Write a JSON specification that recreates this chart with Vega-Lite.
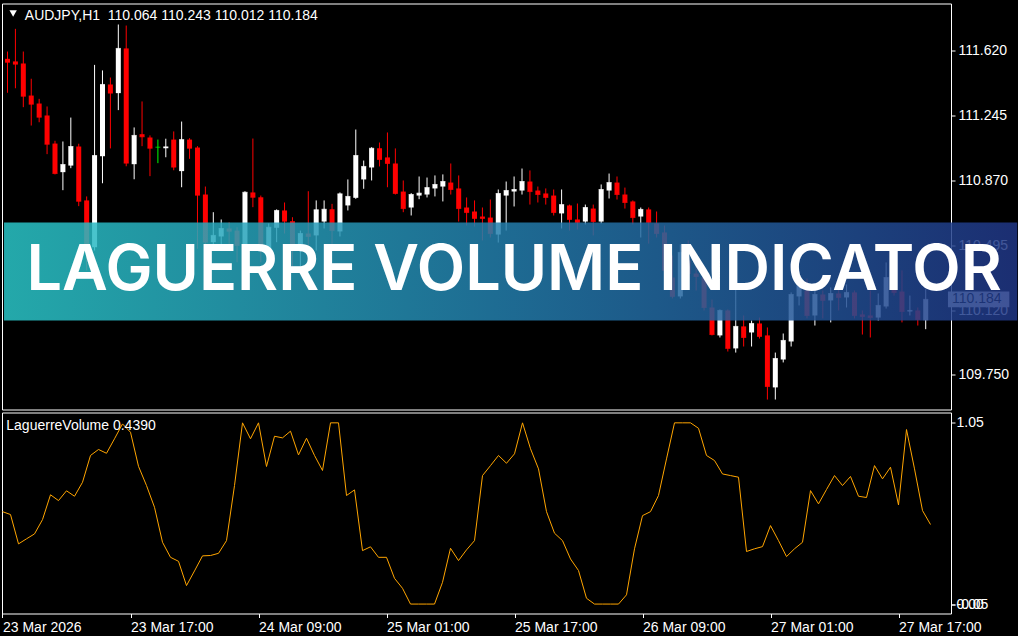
{
"$schema": "https://vega.github.io/schema/vega-lite/v6.json",
"background": "#000000",
"padding": {"left": 0, "top": 2.5, "right": 0, "bottom": 0},
"bounds": "flush",
"spacing": 3,
"config": {
  "view": {"stroke": "#ffffff", "strokeWidth": 1},
  "axis": {"grid": false, "domain": false, "title": null, "labelColor": "#ffffff", "tickColor": "#ffffff", "labelFont": "Liberation Sans", "labelFontSize": 14, "labelFontWeight": "normal", "tickSize": 4},
  "text": {"font": "Liberation Sans"}
},
"datasets": {"bars": [
{"t":"2026-03-23T01:00Z","o":111.572,"h":111.614,"l":111.376,"c":111.552,"lv":0.51},
{"t":"2026-03-23T02:00Z","o":111.557,"h":111.745,"l":111.402,"c":111.541,"lv":0.494},
{"t":"2026-03-23T03:00Z","o":111.545,"h":111.614,"l":111.293,"c":111.356,"lv":0.332},
{"t":"2026-03-23T04:00Z","o":111.360,"h":111.457,"l":111.187,"c":111.310,"lv":0.36},
{"t":"2026-03-23T05:00Z","o":111.314,"h":111.341,"l":111.206,"c":111.235,"lv":0.387},
{"t":"2026-03-23T06:00Z","o":111.245,"h":111.297,"l":111.022,"c":111.079,"lv":0.466},
{"t":"2026-03-23T07:00Z","o":111.083,"h":111.099,"l":110.905,"c":110.910,"lv":0.603},
{"t":"2026-03-23T08:00Z","o":110.918,"h":111.095,"l":110.814,"c":110.962,"lv":0.571},
{"t":"2026-03-23T09:00Z","o":110.956,"h":111.233,"l":110.941,"c":111.066,"lv":0.625},
{"t":"2026-03-23T10:00Z","o":111.066,"h":111.082,"l":110.722,"c":110.750,"lv":0.595},
{"t":"2026-03-23T11:00Z","o":110.755,"h":110.778,"l":110.351,"c":110.489,"lv":0.672},
{"t":"2026-03-23T12:00Z","o":110.485,"h":111.537,"l":110.466,"c":111.014,"lv":0.82},
{"t":"2026-03-23T13:00Z","o":111.010,"h":111.505,"l":110.854,"c":111.424,"lv":0.853},
{"t":"2026-03-23T14:00Z","o":111.424,"h":111.464,"l":111.055,"c":111.374,"lv":0.832},
{"t":"2026-03-23T15:00Z","o":111.374,"h":111.770,"l":111.276,"c":111.632,"lv":0.912},
{"t":"2026-03-23T16:00Z","o":111.632,"h":111.764,"l":110.952,"c":110.970,"lv":0.994},
{"t":"2026-03-23T17:00Z","o":110.964,"h":111.176,"l":110.877,"c":111.130,"lv":0.948},
{"t":"2026-03-23T18:00Z","o":111.137,"h":111.326,"l":111.068,"c":111.122,"lv":0.76},
{"t":"2026-03-23T19:00Z","o":111.118,"h":111.130,"l":110.895,"c":111.056,"lv":0.654},
{"t":"2026-03-23T20:00Z","o":111.062,"h":111.106,"l":110.970,"c":111.062,"lv":0.534},
{"t":"2026-03-23T21:00Z","o":111.056,"h":111.111,"l":111.004,"c":111.064,"lv":0.341},
{"t":"2026-03-23T22:00Z","o":111.106,"h":111.153,"l":110.929,"c":110.947,"lv":0.258},
{"t":"2026-03-23T23:00Z","o":110.924,"h":111.210,"l":110.831,"c":111.106,"lv":0.236},
{"t":"2026-03-24T00:00Z","o":111.106,"h":111.114,"l":110.995,"c":111.056,"lv":0.102},
{"t":"2026-03-24T01:00Z","o":111.060,"h":111.068,"l":110.476,"c":110.785,"lv":0.183},
{"t":"2026-03-24T02:00Z","o":110.789,"h":110.835,"l":110.466,"c":110.514,"lv":0.266},
{"t":"2026-03-24T03:00Z","o":110.514,"h":110.687,"l":110.489,"c":110.553,"lv":0.268},
{"t":"2026-03-24T04:00Z","o":110.547,"h":110.645,"l":110.485,"c":110.593,"lv":0.28},
{"t":"2026-03-24T05:00Z","o":110.593,"h":110.628,"l":110.495,"c":110.577,"lv":0.35},
{"t":"2026-03-24T06:00Z","o":110.581,"h":110.600,"l":110.398,"c":110.495,"lv":0.654},
{"t":"2026-03-24T07:00Z","o":110.487,"h":110.808,"l":110.483,"c":110.802,"lv":1.0},
{"t":"2026-03-24T08:00Z","o":110.801,"h":111.112,"l":110.716,"c":110.773,"lv":0.912},
{"t":"2026-03-24T09:00Z","o":110.773,"h":110.783,"l":110.398,"c":110.478,"lv":1.0},
{"t":"2026-03-24T10:00Z","o":110.472,"h":110.622,"l":110.362,"c":110.600,"lv":0.759},
{"t":"2026-03-24T11:00Z","o":110.597,"h":110.703,"l":110.514,"c":110.697,"lv":0.926},
{"t":"2026-03-24T12:00Z","o":110.697,"h":110.743,"l":110.564,"c":110.635,"lv":0.917},
{"t":"2026-03-24T13:00Z","o":110.635,"h":110.658,"l":110.362,"c":110.466,"lv":0.954},
{"t":"2026-03-24T14:00Z","o":110.466,"h":110.581,"l":110.370,"c":110.564,"lv":0.823},
{"t":"2026-03-24T15:00Z","o":110.564,"h":110.808,"l":110.373,"c":110.547,"lv":0.915},
{"t":"2026-03-24T16:00Z","o":110.553,"h":110.755,"l":110.466,"c":110.701,"lv":0.82},
{"t":"2026-03-24T17:00Z","o":110.633,"h":110.755,"l":110.593,"c":110.704,"lv":0.737},
{"t":"2026-03-24T18:00Z","o":110.704,"h":110.735,"l":110.485,"c":110.581,"lv":1.0},
{"t":"2026-03-24T19:00Z","o":110.576,"h":110.801,"l":110.547,"c":110.793,"lv":1.0},
{"t":"2026-03-24T20:00Z","o":110.726,"h":110.876,"l":110.697,"c":110.778,"lv":0.599},
{"t":"2026-03-24T21:00Z","o":110.770,"h":111.164,"l":110.764,"c":111.014,"lv":0.63},
{"t":"2026-03-24T22:00Z","o":110.876,"h":110.985,"l":110.822,"c":110.951,"lv":0.295},
{"t":"2026-03-24T23:00Z","o":110.945,"h":111.062,"l":110.870,"c":111.056,"lv":0.316},
{"t":"2026-03-25T00:00Z","o":111.056,"h":111.089,"l":110.951,"c":110.991,"lv":0.258},
{"t":"2026-03-25T01:00Z","o":111.003,"h":111.147,"l":110.831,"c":110.968,"lv":0.258},
{"t":"2026-03-25T02:00Z","o":110.968,"h":111.055,"l":110.789,"c":110.795,"lv":0.142},
{"t":"2026-03-25T03:00Z","o":110.806,"h":110.870,"l":110.687,"c":110.708,"lv":0.087},
{"t":"2026-03-25T04:00Z","o":110.714,"h":110.797,"l":110.668,"c":110.789,"lv":0.0},
{"t":"2026-03-25T05:00Z","o":110.783,"h":110.893,"l":110.762,"c":110.797,"lv":0.0},
{"t":"2026-03-25T06:00Z","o":110.789,"h":110.887,"l":110.772,"c":110.829,"lv":0.0},
{"t":"2026-03-25T07:00Z","o":110.824,"h":110.899,"l":110.778,"c":110.847,"lv":0.0},
{"t":"2026-03-25T08:00Z","o":110.835,"h":110.905,"l":110.749,"c":110.864,"lv":0.12},
{"t":"2026-03-25T09:00Z","o":110.858,"h":110.968,"l":110.789,"c":110.818,"lv":0.308},
{"t":"2026-03-25T10:00Z","o":110.824,"h":110.899,"l":110.633,"c":110.708,"lv":0.24},
{"t":"2026-03-25T11:00Z","o":110.714,"h":110.772,"l":110.610,"c":110.685,"lv":0.299},
{"t":"2026-03-25T12:00Z","o":110.691,"h":110.755,"l":110.604,"c":110.651,"lv":0.35},
{"t":"2026-03-25T13:00Z","o":110.662,"h":110.714,"l":110.524,"c":110.651,"lv":0.709},
{"t":"2026-03-25T14:00Z","o":110.656,"h":110.760,"l":110.541,"c":110.564,"lv":0.764},
{"t":"2026-03-25T15:00Z","o":110.558,"h":110.818,"l":110.512,"c":110.795,"lv":0.82},
{"t":"2026-03-25T16:00Z","o":110.783,"h":110.864,"l":110.581,"c":110.812,"lv":0.777},
{"t":"2026-03-25T17:00Z","o":110.806,"h":110.893,"l":110.720,"c":110.818,"lv":0.829},
{"t":"2026-03-25T18:00Z","o":110.812,"h":110.939,"l":110.789,"c":110.864,"lv":1.0},
{"t":"2026-03-25T19:00Z","o":110.864,"h":110.928,"l":110.731,"c":110.806,"lv":0.857},
{"t":"2026-03-25T20:00Z","o":110.812,"h":110.835,"l":110.743,"c":110.789,"lv":0.746},
{"t":"2026-03-25T21:00Z","o":110.795,"h":110.824,"l":110.731,"c":110.772,"lv":0.51},
{"t":"2026-03-25T22:00Z","o":110.783,"h":110.818,"l":110.668,"c":110.685,"lv":0.391},
{"t":"2026-03-25T23:00Z","o":110.680,"h":110.818,"l":110.593,"c":110.731,"lv":0.35},
{"t":"2026-03-26T00:00Z","o":110.726,"h":110.731,"l":110.581,"c":110.645,"lv":0.249},
{"t":"2026-03-26T01:00Z","o":110.645,"h":110.737,"l":110.587,"c":110.628,"lv":0.185},
{"t":"2026-03-26T02:00Z","o":110.633,"h":110.731,"l":110.616,"c":110.714,"lv":0.032},
{"t":"2026-03-26T03:00Z","o":110.708,"h":110.731,"l":110.553,"c":110.633,"lv":0.0},
{"t":"2026-03-26T04:00Z","o":110.633,"h":110.847,"l":110.622,"c":110.818,"lv":0.0},
{"t":"2026-03-26T05:00Z","o":110.812,"h":110.910,"l":110.766,"c":110.858,"lv":0.0},
{"t":"2026-03-26T06:00Z","o":110.858,"h":110.893,"l":110.760,"c":110.789,"lv":0.0},
{"t":"2026-03-26T07:00Z","o":110.789,"h":110.829,"l":110.708,"c":110.743,"lv":0.051},
{"t":"2026-03-26T08:00Z","o":110.749,"h":110.755,"l":110.616,"c":110.656,"lv":0.305},
{"t":"2026-03-26T09:00Z","o":110.662,"h":110.714,"l":110.541,"c":110.703,"lv":0.488},
{"t":"2026-03-26T10:00Z","o":110.703,"h":110.714,"l":110.506,"c":110.628,"lv":0.51},
{"t":"2026-03-26T11:00Z","o":110.622,"h":110.691,"l":110.541,"c":110.564,"lv":0.599},
{"t":"2026-03-26T12:00Z","o":110.570,"h":110.610,"l":110.339,"c":110.351,"lv":0.801},
{"t":"2026-03-26T13:00Z","o":110.310,"h":110.437,"l":110.189,"c":110.201,"lv":1.0},
{"t":"2026-03-26T14:00Z","o":110.201,"h":110.501,"l":110.189,"c":110.455,"lv":1.0},
{"t":"2026-03-26T15:00Z","o":110.408,"h":110.524,"l":110.293,"c":110.333,"lv":1.0},
{"t":"2026-03-26T16:00Z","o":110.333,"h":110.426,"l":110.235,"c":110.316,"lv":0.97},
{"t":"2026-03-26T17:00Z","o":110.310,"h":110.351,"l":110.120,"c":110.137,"lv":0.82},
{"t":"2026-03-26T18:00Z","o":110.137,"h":110.183,"l":109.976,"c":109.981,"lv":0.792},
{"t":"2026-03-26T19:00Z","o":109.976,"h":110.126,"l":109.964,"c":110.120,"lv":0.718},
{"t":"2026-03-26T20:00Z","o":110.120,"h":110.126,"l":109.883,"c":109.901,"lv":0.709},
{"t":"2026-03-26T21:00Z","o":109.901,"h":110.310,"l":109.877,"c":110.028,"lv":0.7},
{"t":"2026-03-26T22:00Z","o":110.028,"h":110.091,"l":109.912,"c":109.964,"lv":0.29},
{"t":"2026-03-26T23:00Z","o":109.993,"h":110.062,"l":109.912,"c":110.045,"lv":0.305},
{"t":"2026-03-27T00:00Z","o":110.045,"h":110.079,"l":109.958,"c":109.970,"lv":0.317},
{"t":"2026-03-27T01:00Z","o":109.976,"h":110.022,"l":109.606,"c":109.681,"lv":0.433},
{"t":"2026-03-27T02:00Z","o":109.676,"h":109.877,"l":109.606,"c":109.843,"lv":0.35},
{"t":"2026-03-27T03:00Z","o":109.837,"h":109.987,"l":109.820,"c":109.947,"lv":0.262},
{"t":"2026-03-27T04:00Z","o":109.941,"h":110.224,"l":109.912,"c":110.212,"lv":0.305},
{"t":"2026-03-27T05:00Z","o":110.201,"h":110.310,"l":110.149,"c":110.264,"lv":0.341},
{"t":"2026-03-27T06:00Z","o":110.235,"h":110.304,"l":110.074,"c":110.091,"lv":0.626},
{"t":"2026-03-27T07:00Z","o":110.091,"h":110.235,"l":110.033,"c":110.212,"lv":0.553},
{"t":"2026-03-27T08:00Z","o":110.212,"h":110.235,"l":110.074,"c":110.178,"lv":0.632},
{"t":"2026-03-27T09:00Z","o":110.178,"h":110.253,"l":110.051,"c":110.218,"lv":0.709},
{"t":"2026-03-27T10:00Z","o":110.218,"h":110.264,"l":110.120,"c":110.195,"lv":0.654},
{"t":"2026-03-27T11:00Z","o":110.195,"h":110.270,"l":110.137,"c":110.224,"lv":0.704},
{"t":"2026-03-27T12:00Z","o":110.224,"h":110.235,"l":110.074,"c":110.091,"lv":0.595},
{"t":"2026-03-27T13:00Z","o":110.097,"h":110.120,"l":109.981,"c":110.085,"lv":0.588},
{"t":"2026-03-27T14:00Z","o":110.091,"h":110.235,"l":109.964,"c":110.079,"lv":0.764},
{"t":"2026-03-27T15:00Z","o":110.079,"h":110.218,"l":110.062,"c":110.149,"lv":0.691},
{"t":"2026-03-27T16:00Z","o":110.143,"h":110.397,"l":110.131,"c":110.310,"lv":0.755},
{"t":"2026-03-27T17:00Z","o":110.316,"h":110.397,"l":110.206,"c":110.224,"lv":0.547},
{"t":"2026-03-27T18:00Z","o":110.229,"h":110.351,"l":110.051,"c":110.114,"lv":0.963},
{"t":"2026-03-27T19:00Z","o":110.114,"h":110.206,"l":110.091,"c":110.120,"lv":0.746},
{"t":"2026-03-27T20:00Z","o":110.120,"h":110.137,"l":110.033,"c":110.068,"lv":0.516},
{"t":"2026-03-27T21:00Z","o":110.064,"h":110.243,"l":110.012,"c":110.184,"lv":0.439}
]},
"vconcat": [
 {
  "width": 949, "height": 406,
  "layer": [
   {
    "data": {"name": "bars"},
    "mark": {"type": "rule", "strokeWidth": 1},
    "encoding": {
     "x": {"field": "t", "type": "temporal", "axis": null,
           "scale": {"type": "utc", "nice": false, "domain": [
             {"year": 2026, "month": 3, "date": 23, "hours": 0, "minutes": 56, "seconds": 15, "utc": true},
             {"year": 2026, "month": 3, "date": 27, "hours": 23, "minutes": 33, "seconds": 45, "utc": true}]}},
     "y": {"field": "l", "type": "quantitative",
           "scale": {"domain": [109.5485, 111.8912], "nice": false, "zero": false},
           "axis": {"orient": "right", "values": [111.62, 111.245, 110.87, 110.495, 110.12, 109.75], "format": ".3f", "labelPadding": 3, "tickSize": 4}},
     "y2": {"field": "h"},
     "color": {"condition": [{"test": "datum.c > datum.o", "value": "#ffffff"}, {"test": "datum.c < datum.o", "value": "#ff0000"}], "value": "#00ff00"}
    }
   },
   {
    "data": {"name": "bars"},
    "mark": {"type": "bar", "width": 5},
    "encoding": {
     "x": {"field": "t", "type": "temporal"},
     "y": {"field": "o", "type": "quantitative"},
     "y2": {"field": "c"},
     "color": {"condition": [{"test": "datum.c > datum.o", "value": "#ffffff"}, {"test": "datum.c < datum.o", "value": "#ff0000"}], "value": "#00ff00"}
    }
   },
   {
    "data": {"name": "bars"},
    "mark": {"type": "tick", "orient": "horizontal", "thickness": 1, "size": 5},
    "encoding": {
     "x": {"field": "t", "type": "temporal"},
     "y": {"field": "c", "type": "quantitative"},
     "color": {"condition": [{"test": "datum.c > datum.o", "value": "#ffffff"}, {"test": "datum.c < datum.o", "value": "#ff0000"}], "value": "#00ff00"}
    }
   },
   {
    "data": {"values": [{}]},
    "mark": {"type": "rect", "fill": "#f2f2f2", "clip": false},
    "encoding": {
     "x": {"datum": {"year": 2026, "month": 3, "date": 27, "hours": 23, "minutes": 48, "seconds": 45, "utc": true}, "type": "temporal"},
     "x2": {"datum": {"year": 2026, "month": 3, "date": 28, "hours": 7, "minutes": 33, "seconds": 45, "utc": true}},
     "y": {"datum": 110.230, "type": "quantitative"},
     "y2": {"datum": 110.138}
    }
   },
   {
    "data": {"values": [{}]},
    "mark": {"type": "text", "text": "110.184", "color": "#000000", "fontSize": 14, "align": "left", "baseline": "middle", "clip": false},
    "encoding": {
     "x": {"datum": {"year": 2026, "month": 3, "date": 28, "hours": 0, "minutes": 18, "seconds": 45, "utc": true}, "type": "temporal"},
     "y": {"datum": 110.184, "type": "quantitative"}
    }
   },
   {
    "data": {"values": [{}]},
    "mark": {"type": "rect", "clip": false, "opacity": 0.85,
             "fill": {"gradient": "linear", "x1": 0, "y1": 0, "x2": 1, "y2": 0,
                      "stops": [{"offset": 0, "color": "#2ac6c8"}, {"offset": 0.5, "color": "#237dac"}, {"offset": 1, "color": "#203686"}]}},
    "encoding": {
     "x": {"datum": {"year": 2026, "month": 3, "date": 23, "hours": 0, "minutes": 33, "seconds": 45, "utc": true}, "type": "temporal"},
     "x2": {"datum": {"year": 2026, "month": 3, "date": 28, "hours": 8, "minutes": 33, "seconds": 45, "utc": true}},
     "y": {"datum": 110.6275, "type": "quantitative"},
     "y2": {"datum": 110.062}
    }
   },
   {
    "data": {"values": [{}]},
    "mark": {"type": "text", "text": "LAGUERRE VOLUME INDICATOR", "font": "Inter", "fontWeight": 600, "fontSize": 63, "color": "#ffffff", "align": "center", "baseline": "alphabetic", "clip": false},
    "encoding": {
     "x": {"datum": {"year": 2026, "month": 3, "date": 25, "hours": 17, "minutes": 0, "seconds": 0, "utc": true}, "type": "temporal"},
     "y": {"datum": 110.238, "type": "quantitative"}
    }
   },
   {
    "data": {"values": [{}]},
    "mark": {"type": "point", "shape": "triangle-down", "filled": true, "size": 55, "color": "#ffffff", "opacity": 1},
    "encoding": {
     "x": {"datum": {"year": 2026, "month": 3, "date": 23, "hours": 1, "minutes": 42, "seconds": 45, "utc": true}, "type": "temporal"},
     "y": {"datum": 111.8335, "type": "quantitative"}
    }
   },
   {
    "data": {"values": [{}]},
    "mark": {"type": "text", "text": "AUDJPY,H1\u00a0 110.064 110.243 110.012 110.184", "color": "#ffffff", "fontSize": 14, "align": "left", "baseline": "alphabetic"},
    "encoding": {
     "x": {"datum": {"year": 2026, "month": 3, "date": 23, "hours": 3, "minutes": 11, "seconds": 15, "utc": true}, "type": "temporal"},
     "y": {"datum": 111.7972, "type": "quantitative"}
    }
   }
  ]
 },
 {
  "width": 949, "height": 201,
  "layer": [
   {
    "data": {"name": "bars"},
    "mark": {"type": "line", "color": "#ffa500", "strokeWidth": 1},
    "encoding": {
     "x": {"field": "t", "type": "temporal",
           "scale": {"type": "utc", "nice": false, "domain": [
             {"year": 2026, "month": 3, "date": 23, "hours": 0, "minutes": 56, "seconds": 15, "utc": true},
             {"year": 2026, "month": 3, "date": 27, "hours": 23, "minutes": 33, "seconds": 45, "utc": true}]},
           "axis": {"orient": "bottom", "labelAlign": "left", "labelFlush": false, "labelOverlap": false, "labelBaseline": "top", "tickSize": 4, "labelPadding": 3,
                    "values": [
                      {"year": 2026, "month": 3, "date": 23, "hours": 1, "utc": true},
                      {"year": 2026, "month": 3, "date": 23, "hours": 17, "utc": true},
                      {"year": 2026, "month": 3, "date": 24, "hours": 9, "utc": true},
                      {"year": 2026, "month": 3, "date": 25, "hours": 1, "utc": true},
                      {"year": 2026, "month": 3, "date": 25, "hours": 17, "utc": true},
                      {"year": 2026, "month": 3, "date": 26, "hours": 9, "utc": true},
                      {"year": 2026, "month": 3, "date": 27, "hours": 1, "utc": true},
                      {"year": 2026, "month": 3, "date": 27, "hours": 17, "utc": true}],
                    "labelExpr": "utcdate(datum.value) == 23 && utchours(datum.value) == 1 ? '23 Mar 2026' : utcFormat(datum.value, '%d %b %H:%M')"}},
     "y": {"field": "lv", "type": "quantitative",
           "scale": {"domain": [-0.052, 1.057], "nice": false, "zero": false},
           "axis": {"orient": "right", "values": [1, 0, -0.0001], "labelOverlap": false, "labelPadding": 1, "tickSize": 4,
                    "labelExpr": "datum.value > 0.5 ? '1.05' : (datum.value < 0 ? '-0.05' : '0.00')"}}
    }
   },
   {
    "data": {"values": [{}]},
    "mark": {"type": "text", "text": "LaguerreVolume 0.4390", "color": "#ffffff", "fontSize": 14, "align": "left", "baseline": "alphabetic"},
    "encoding": {
     "x": {"datum": {"year": 2026, "month": 3, "date": 23, "hours": 1, "minutes": 28, "seconds": 30, "utc": true}, "type": "temporal"},
     "y": {"datum": 0.963, "type": "quantitative"}
    }
   }
  ]
 }
]
}
